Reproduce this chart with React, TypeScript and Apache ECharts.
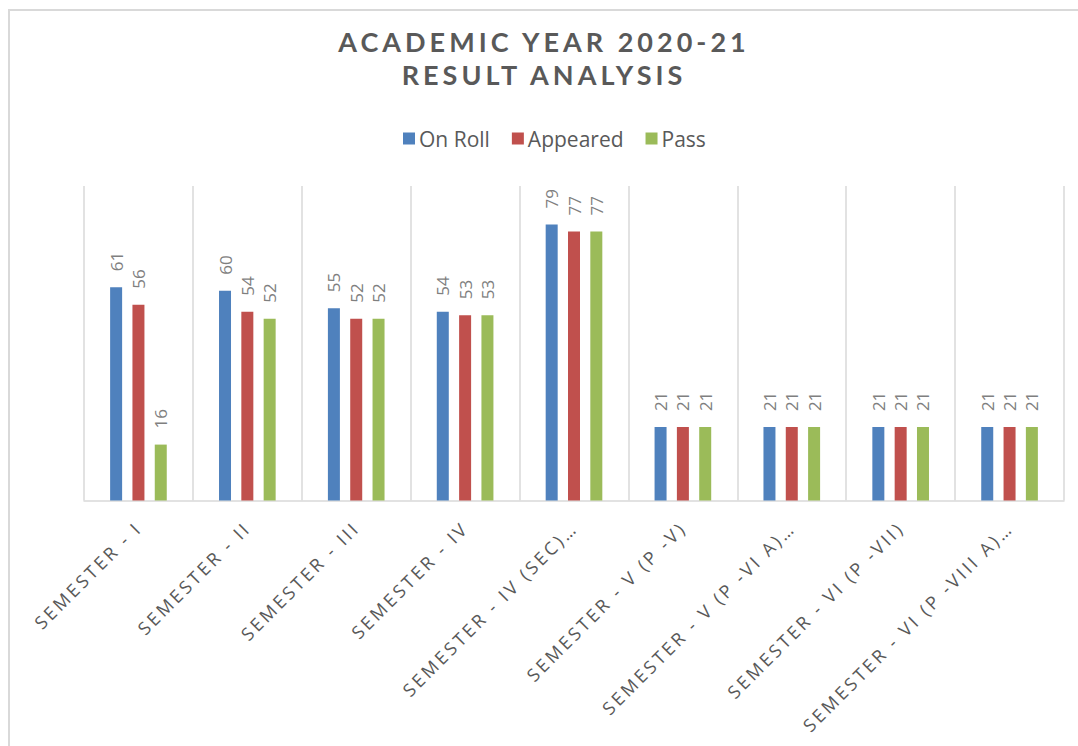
import React, { useEffect, useRef } from "react";
import * as echarts from "echarts";

const categories = [
  "SEMESTER - I",
  "SEMESTER - II",
  "SEMESTER - III",
  "SEMESTER - IV",
  "SEMESTER - IV (SEC)…",
  "SEMESTER - V (P -V)",
  "SEMESTER - V (P -VI A)…",
  "SEMESTER - VI (P -VII)",
  "SEMESTER - VI (P -VIII A)…",
];
const onRoll = [61, 60, 55, 54, 79, 21, 21, 21, 21];
const appeared = [56, 54, 52, 53, 77, 21, 21, 21, 21];
const pass = [16, 52, 52, 53, 77, 21, 21, 21, 21];
const seriesNames = ["On Roll", "Appeared", "Pass"];
const seriesColors = ["#4f81bd", "#c0504d", "#9bbb59"];
const titleLines = ["ACADEMIC YEAR 2020-21", "RESULT ANALYSIS"];

export default function App() {
  const ref = useRef<HTMLDivElement>(null);
  useEffect(() => {
    if (!ref.current) return;
    const chart = echarts.init(ref.current, undefined, { renderer: "svg" });
    const label = {
      show: true,
      position: "top",
      rotate: 90,
      align: "left",
      verticalAlign: "middle",
      distance: 16,
      color: "#7f7f7f",
      fontSize: 17,
      fontFamily: "Open Sans",
    };
    const datas = [onRoll, appeared, pass];
    chart.setOption({
      animation: false,
      backgroundColor: "#ffffff",
      title: {
        text: titleLines.join("\n"),
        left: "center",
        top: 14,
        padding: 0,
        textStyle: {
          fontFamily: "Lato",
          fontWeight: "bold",
          fontSize: 27,
          lineHeight: 33,
          color: "#595959",
        },
      },
      legend: {
        data: seriesNames,
        left: 393,
        top: 116,
        padding: 0,
        itemWidth: 12,
        itemHeight: 12,
        itemGap: 22,
        icon: "rect",
        textStyle: {
          fontFamily: "Open Sans",
          fontSize: 21,
          lineHeight: 23,
          color: "#595959",
          padding: [0, 0, 0, -1],
        },
      },
      grid: { left: 74, right: 14, top: 175, bottom: 245.5, containLabel: false },
      xAxis: {
        type: "category",
        data: categories,
        axisTick: { show: false },
        axisLine: { lineStyle: { color: "#d9d9d9", width: 1.5 } },
        splitLine: { show: true, lineStyle: { color: "#d9d9d9", width: 1.5 } },
        axisLabel: {
          interval: 0,
          rotate: 45,
          margin: 24,
          color: "#595959",
          fontSize: 18,
          fontFamily: "Open Sans",
        },
      },
      yAxis: {
        type: "value",
        min: 0,
        max: 90,
        show: false,
        splitLine: { show: false },
      },
      series: seriesNames.map((name, i) => ({
        name,
        type: "bar",
        data: datas[i],
        barWidth: 12,
        barGap: "86%",
        itemStyle: { color: seriesColors[i] },
        label,
      })),
    });
    const svg = ref.current.querySelector("svg");
    if (svg) {
      svg.querySelectorAll("text").forEach((t) => {
        const s = t.textContent || "";
        if (s.startsWith("SEMESTER")) t.setAttribute("letter-spacing", "3");
        else if (titleLines.includes(s)) t.setAttribute("letter-spacing", "4");
      });
    }
    return () => chart.dispose();
  }, []);
  return (
    <div
      style={{
        position: "fixed",
        left: 8,
        top: 9,
        width: 1070,
        height: 737,
        borderTop: "2px solid #d9d9d9",
        borderLeft: "2px solid #d9d9d9",
        boxSizing: "border-box",
        background: "#fff",
      }}
    >
      <div ref={ref} style={{ width: 1068, height: 735 }} />
    </div>
  );
}
